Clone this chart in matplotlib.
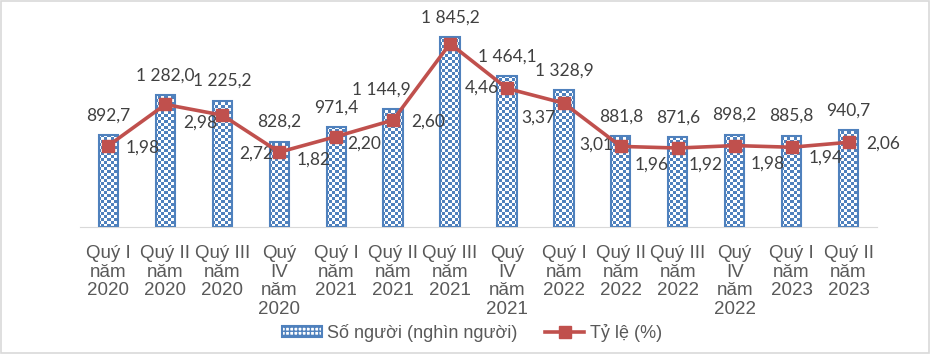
import numpy as np
from matplotlib import pyplot as plt
from matplotlib.lines import Line2D
from matplotlib.patches import Rectangle, Patch
from matplotlib.colors import ListedColormap

quarters = ["Quý I\nnăm\n2020", "Quý II\nnăm\n2020", "Quý III\nnăm\n2020", "Quý\nIV\nnăm\n2020",
            "Quý I\nnăm\n2021", "Quý II\nnăm\n2021", "Quý III\nnăm\n2021", "Quý\nIV\nnăm\n2021",
            "Quý I\nnăm\n2022", "Quý II\nnăm\n2022", "Quý III\nnăm\n2022", "Quý\nIV\nnăm\n2022",
            "Quý I\nnăm\n2023", "Quý II\nnăm\n2023"]
so_nguoi = [892.7, 1282.0, 1225.2, 828.2, 971.4, 1144.9, 1845.2, 1464.1,
            1328.9, 881.8, 871.6, 898.2, 885.8, 940.7]
ty_le = [1.98, 2.98, 2.72, 1.82, 2.20, 2.60, 4.46, 3.37, 3.01, 1.96, 1.92, 1.98, 1.94, 2.06]

# label placement (pixels from the marker / bar top)
pct_dx = [34, 35, 34, 34, 28, 35, 32, 31, 32, 31, 28, 33, 34, 35]
pct_dy = [2, 18, 38, 7, 7, 2, 44, 29, 41, 18, 17, 18, 10, 1]
bar_dx = [0, 0, 0, 0, 0, -12, 0, 0, 0, 0, 0, 0, 0, 0]

BLUE = "#4F81BD"
RED = "#C0504D"
TXT = "#404040"
GRAY = "#595959"
LAB = ["Lato", "DejaVu Sans"]
SANS = ["Liberation Sans", "DejaVu Sans"]

W, H, DPI = 933, 356, 100
fig = plt.figure(figsize=(W / DPI, H / DPI), dpi=DPI)
x0, x1, ybase, ytop = 80, 877, 227, 21.4
ax = fig.add_axes([x0 / W, (H - ybase) / H, (x1 - x0) / W, (ybase - ytop) / H])
ax2 = ax.twinx()

x = np.arange(len(quarters))
bars = ax.bar(x, so_nguoi, width=0.34, facecolor="none", edgecolor=BLUE, linewidth=1.5, zorder=3)

# checker board fill, 3 px cells, clipped to every bar
nx = int(round((x1 - x0) / 3))
ny = int(round((ybase - ytop) / 3))
iy, ix = np.indices((ny, nx))
checker = np.where((ix + iy) % 2 == 0, 0.0, 1.0)
cmap = ListedColormap(["white", BLUE])
for b in bars:
    im = ax.imshow(checker, cmap=cmap, extent=(0, 1, 0, 1), transform=ax.transAxes,
                   aspect="auto", interpolation="nearest", zorder=2)
    im.set_clip_path(b)

ax.set_xlim(-0.5, len(quarters) - 0.5)
ax.set_ylim(0, 2000)
ax2.set_ylim(0, 5)

for i, v in enumerate(so_nguoi):
    s = f"{v:,.1f}".replace(",", " ").replace(".", ",")
    ax.annotate(s, (x[i], v), xytext=(bar_dx[i], 20), textcoords="offset pixels",
                ha="center", va="center", fontsize=12.5, color=TXT, family=LAB)

ax2.plot(x, ty_le, color=RED, linewidth=2.6, marker="s", markersize=8, zorder=4)
for i, v in enumerate(ty_le):
    s = f"{v:.2f}".replace(".", ",")
    ax2.annotate(s, (x[i], v), xytext=(pct_dx[i], -pct_dy[i]), textcoords="offset pixels",
                 ha="center", va="center", fontsize=12.5, color=TXT, family=LAB)

for a in (ax, ax2):
    for side in ("top", "right", "left"):
        a.spines[side].set_visible(False)
    a.set_yticks([])
ax2.spines["bottom"].set_visible(False)
ax.spines["bottom"].set_color("#D9D9D9")
ax.set_xticks(x)
ax.set_xticklabels(quarters, fontsize=13.5, color=GRAY, family=SANS, linespacing=1.12)
ax.tick_params(axis="x", length=0, pad=13)

handles = [Patch(facecolor="white", edgecolor=BLUE, hatch="++++", linewidth=1.5,
                 label="Số người (nghìn người)"),
           Line2D([], [], color=RED, linewidth=2.6, marker="s", markersize=8, label="Tỷ lệ (%)")]
leg = fig.legend(handles=handles, loc="center", bbox_to_anchor=(0.506, 0.065), ncol=2,
                 frameon=False, prop={"family": SANS, "size": 13},
                 handlelength=2.2, handleheight=0.6, handletextpad=0.3, columnspacing=1.5)
for t in leg.get_texts():
    t.set_color(GRAY)

fig.add_artist(Rectangle((0.5 / W, 3 / H), 928.5 / W, 352.5 / H, transform=fig.transFigure,
                         fill=False, edgecolor="#D9D9D9", linewidth=1.2))

fig.savefig("out.png", dpi=DPI)
